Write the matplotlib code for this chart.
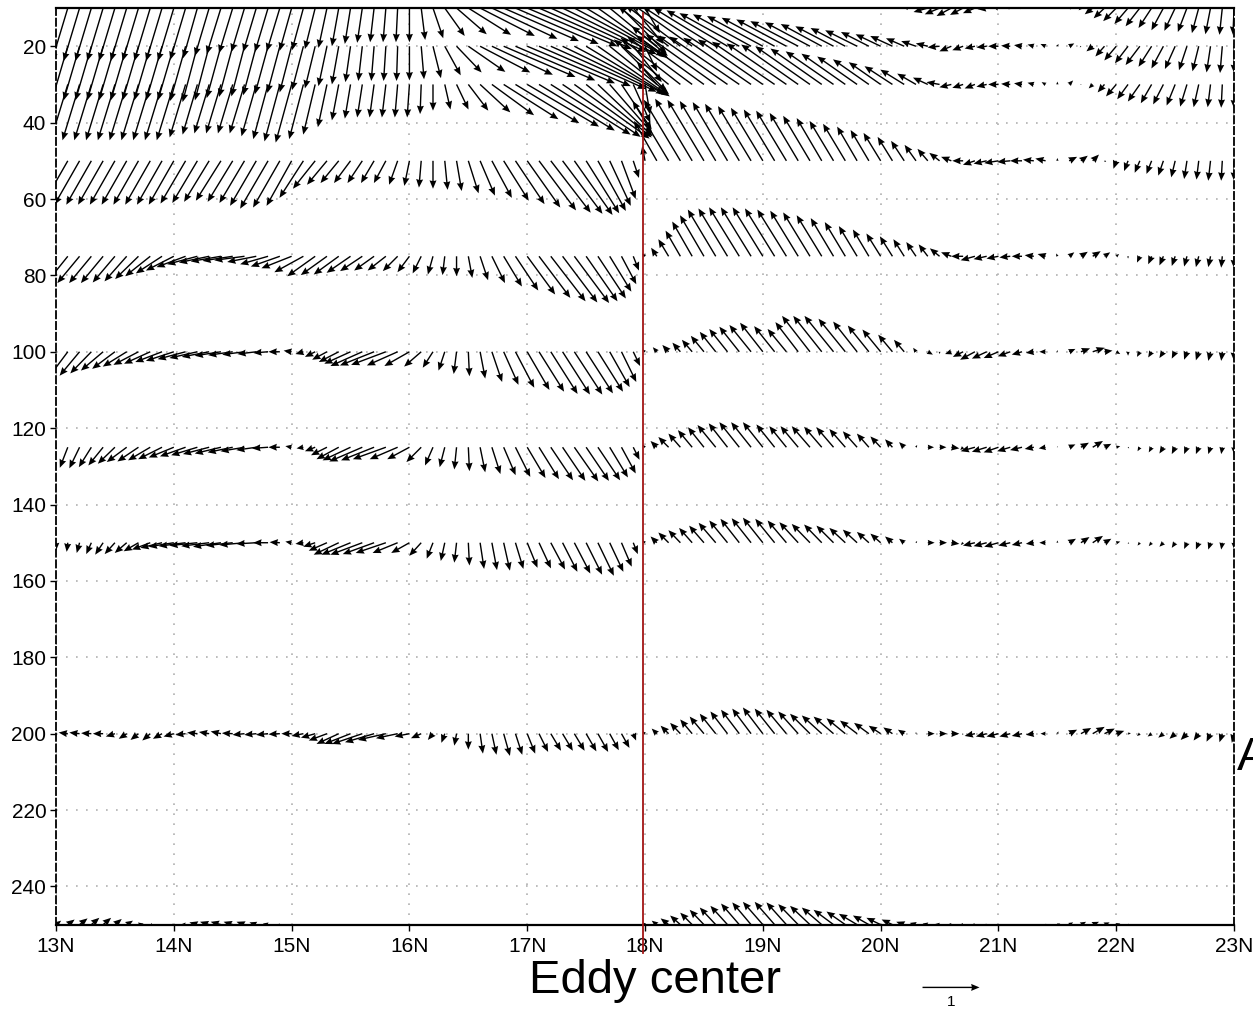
import numpy as np
import matplotlib
matplotlib.use('Agg')
import matplotlib.pyplot as plt
from matplotlib.transforms import blended_transform_factory

# latitudes of the vector columns (every 0.1 deg) and depth levels of the rows
lats = np.round(np.arange(13.0, 23.001, 0.1), 1)
depths = [10, 20, 30, 50, 75, 100, 125, 150, 200, 250]

# meridional component (reference arrow = 1), one list per depth level, 13.0N..23.0N
v10 = ([-0.28]*10 +
       [-0.28, -0.27, -0.25, -0.25, -0.25, -0.24, -0.23, -0.23, -0.23, -0.23] +
       [-0.21, -0.20, -0.18, -0.15, -0.12, -0.10, -0.09, -0.07, -0.05, -0.03] +
       [0.0, 0.07, 0.18, 0.35, 0.53, 0.75, 0.96, 1.15, 1.32, 1.46] +
       [1.58, 1.63, 1.67, 1.65, 1.58, 1.42, 1.23, 1.02, 0.79, 0.53] +
       [0.26, -0.35, -0.88, -0.98, -1.05, -1.08, -1.09, -1.07, -1.05, -1.02] +
       [-0.98, -0.93, -0.88, -0.84, -0.79, -0.72, -0.67, -0.61, -0.56, -0.49] +
       [-0.44, -0.39, -0.32, -0.28, -0.25, -0.26, -0.26, -0.23, -0.21, -0.16] +
       [-0.11, -0.07, -0.05, -0.02, 0.0, 0.04, 0.07, -0.04, -0.14, -0.19] +
       [-0.23, -0.24, -0.25, -0.23, -0.21, -0.19, -0.16, -0.12, -0.09, -0.05] + [-0.02])
v20 = ([-0.28]*10 +
       [-0.28, -0.27, -0.26, -0.25, -0.25, -0.24, -0.23, -0.23, -0.23, -0.22] +
       [-0.21, -0.20, -0.18, -0.15, -0.12, -0.09, -0.07, -0.05, -0.04, -0.02] +
       [0.0, 0.05, 0.14, 0.28, 0.44, 0.65, 0.88, 1.07, 1.26, 1.40] +
       [1.54, 1.61, 1.67, 1.65, 1.58, 1.42, 1.26, 1.04, 0.79, 0.50] +
       [0.21, -0.44, -0.88, -0.96, -1.05, -1.08, -1.09, -1.07, -1.05, -1.02] +
       [-0.98, -0.93, -0.88, -0.84, -0.79, -0.72, -0.67, -0.61, -0.56, -0.49] +
       [-0.44, -0.39, -0.32, -0.26, -0.21, -0.21, -0.21, -0.19, -0.18, -0.18] +
       [-0.18, -0.16, -0.14, -0.11, -0.09, 0.02, 0.09, -0.02, -0.11, -0.16] +
       [-0.21, -0.23, -0.25, -0.23, -0.21, -0.18, -0.14, -0.11, -0.07, -0.04] + [0.0])
v30 = ([-0.30]*10 +
       [-0.30, -0.28, -0.26, -0.26, -0.26, -0.26, -0.26, -0.26, -0.26, -0.27] +
       [-0.28, -0.25, -0.21, -0.16, -0.12, -0.10, -0.09, -0.08, -0.07, -0.05] +
       [-0.04, -0.02, 0.0, 0.10, 0.21, 0.35, 0.53, 0.74, 0.96, 1.12] +
       [1.26, 1.33, 1.40, 1.37, 1.32, 1.15, 0.96, 0.75, 0.53, 0.30] +
       [0.09, -0.35, -0.96, -1.05, -1.14, -1.19, -1.23, -1.23, -1.23, -1.19] +
       [-1.14, -1.10, -1.05, -1.00, -0.96, -0.90, -0.84, -0.77, -0.70, -0.63] +
       [-0.56, -0.49, -0.42, -0.33, -0.26, -0.23, -0.21, -0.19, -0.18, -0.18] +
       [-0.18, -0.16, -0.14, -0.11, -0.07, 0.0, 0.07, 0.0, -0.07, -0.12] +
       [-0.18, -0.19, -0.21, -0.19, -0.18, -0.15, -0.12, -0.09, -0.05, -0.02] + [0.0])
v50 = ([-0.44]*10 +
       [-0.44, -0.44, -0.44, -0.44, -0.44, -0.44, -0.44, -0.46, -0.49, -0.47] +
       [-0.44, -0.42, -0.39, -0.35, -0.32, -0.29, -0.26, -0.23, -0.21, -0.15] +
       [-0.09, -0.04, 0.0, 0.05, 0.09, 0.18, 0.26, 0.35, 0.44, 0.51] +
       [0.58, 0.65, 0.70, 0.70, 0.67, 0.58, 0.49, 0.37, 0.25, 0.10] +
       [-0.05, -0.40, -0.63, -0.64, -0.65, -0.64, -0.63, -0.61, -0.60, -0.58] +
       [-0.56, -0.54, -0.53, -0.50, -0.47, -0.44, -0.42, -0.39, -0.35, -0.32] +
       [-0.30, -0.26, -0.23, -0.20, -0.18, -0.18, -0.18, -0.19, -0.21, -0.23] +
       [-0.25, -0.23, -0.21, -0.19, -0.18, 0.0, 0.14, 0.12, 0.11, 0.03] +
       [-0.05, -0.07, -0.09, -0.09, -0.09, -0.07, -0.05, -0.04, -0.04, -0.02] + [0.0])
v75 = ([-0.35, -0.37, -0.39, -0.39, -0.39, -0.39, -0.39, -0.41, -0.44, -0.46] +
       [-0.49, -0.51, -0.53, -0.53, -0.53, -0.53, -0.53, -0.51, -0.49, -0.51] +
       [-0.53, -0.51, -0.49, -0.46, -0.44, -0.42, -0.39, -0.35, -0.32, -0.26] +
       [-0.21, -0.15, -0.09, -0.04, 0.0, 0.07, 0.14, 0.23, 0.32, 0.40] +
       [0.49, 0.55, 0.61, 0.61, 0.61, 0.55, 0.49, 0.38, 0.26, 0.10] +
       [-0.05, -0.10, -0.18, -0.26, -0.35, -0.42, -0.49, -0.51, -0.53, -0.53] +
       [-0.53, -0.52, -0.51, -0.49, -0.47, -0.44, -0.40, -0.36, -0.32, -0.28] +
       [-0.25, -0.22, -0.19, -0.17, -0.16, -0.17, -0.18, -0.21, -0.25, -0.23] +
       [-0.21, -0.19, -0.18, -0.16, -0.14, -0.02, 0.09, 0.12, 0.14, 0.10] +
       [0.05, 0.0, -0.05, -0.06, -0.07, -0.06, -0.05, -0.05, -0.04, -0.02] + [0.0])
v100 = ([-0.32, -0.33, -0.35, -0.37, -0.39, -0.40, -0.42, -0.44, -0.46, -0.47] +
        [-0.49, -0.49, -0.49, -0.48, -0.46, -0.43, -0.39, -0.33, -0.26, -0.20] +
        [-0.14, -0.14, -0.18, -0.26, -0.35, -0.46, -0.56, -0.60, -0.61, -0.54] +
        [-0.44, -0.30, -0.18, -0.11, -0.05, 0.02, 0.09, 0.18, 0.26, 0.33] +
        [0.39, 0.44, 0.47, 0.48, 0.49, 0.47, 0.44, 0.35, 0.26, 0.12] +
        [-0.04, -0.07, -0.11, -0.14, -0.18, -0.23, -0.28, -0.32, -0.35, -0.38] +
        [-0.40, -0.36, -0.33, -0.40, -0.49, -0.50, -0.51, -0.47, -0.42, -0.37] +
        [-0.32, -0.25, -0.18, -0.05, 0.09, 0.0, -0.11, -0.18, -0.26, -0.26] +
        [-0.26, -0.22, -0.18, -0.14, -0.11, 0.0, 0.11, 0.16, 0.21, 0.14] +
        [0.07, 0.0, -0.05, -0.06, -0.07, -0.06, -0.05, -0.05, -0.04, -0.02] + [0.0])
v125 = ([-0.09, -0.14, -0.18, -0.22, -0.26, -0.30, -0.35, -0.37, -0.39, -0.42] +
        [-0.44, -0.45, -0.46, -0.46, -0.46, -0.44, -0.42, -0.35, -0.28, -0.20] +
        [-0.11, -0.12, -0.18, -0.28, -0.39, -0.49, -0.58, -0.58, -0.58, -0.49] +
        [-0.39, -0.26, -0.14, -0.09, -0.04, 0.02, 0.09, 0.15, 0.21, 0.26] +
        [0.32, 0.35, 0.39, 0.40, 0.42, 0.40, 0.39, 0.32, 0.25, 0.11] +
        [-0.04, -0.11, -0.18, -0.21, -0.25, -0.28, -0.32, -0.33, -0.35, -0.35] +
        [-0.35, -0.32, -0.30, -0.31, -0.32, -0.31, -0.30, -0.28, -0.25, -0.21] +
        [-0.18, -0.13, -0.09, 0.02, 0.11, 0.12, 0.14, -0.05, -0.25, -0.26] +
        [-0.26, -0.23, -0.21, -0.16, -0.12, 0.0, 0.11, 0.14, 0.18, 0.12] +
        [0.07, 0.02, -0.04, -0.05, -0.07, -0.06, -0.05, -0.05, -0.04, -0.02] + [0.0])
v150 = ([0.0, -0.02, -0.05, -0.09, -0.14, -0.18, -0.21, -0.26, -0.32, -0.38] +
        [-0.44, -0.47, -0.49, -0.49, -0.49, -0.47, -0.44, -0.35, -0.26, -0.18] +
        [-0.11, -0.14, -0.21, -0.32, -0.44, -0.51, -0.56, -0.55, -0.53, -0.44] +
        [-0.32, -0.21, -0.11, -0.07, -0.04, 0.02, 0.07, 0.09, 0.11, 0.14] +
        [0.18, 0.21, 0.25, 0.26, 0.28, 0.28, 0.28, 0.24, 0.18, 0.08] +
        [-0.04, -0.11, -0.18, -0.21, -0.23, -0.26, -0.30, -0.32, -0.33, -0.34] +
        [-0.35, -0.34, -0.33, -0.33, -0.32, -0.31, -0.30, -0.28, -0.25, -0.21] +
        [-0.18, -0.13, -0.09, 0.02, 0.12, 0.13, 0.14, -0.04, -0.21, -0.23] +
        [-0.25, -0.21, -0.18, -0.14, -0.11, 0.0, 0.12, 0.15, 0.18, 0.12] +
        [0.07, 0.02, -0.04, -0.05, -0.07, -0.06, -0.05, -0.05, -0.04, -0.02] + [0.0])
v200 = ([-0.14, -0.16, -0.18, -0.18, -0.18, -0.16, -0.14, -0.14, -0.14, -0.16] +
        [-0.18, -0.18, -0.18, -0.18, -0.18, -0.19, -0.21, -0.21, -0.21, -0.20] +
        [-0.18, -0.21, -0.25, -0.32, -0.39, -0.46, -0.53, -0.51, -0.49, -0.38] +
        [-0.26, -0.18, -0.09, -0.06, -0.04, 0.0, 0.05, 0.08, 0.11, 0.12] +
        [0.14, 0.16, 0.18, 0.18, 0.18, 0.18, 0.18, 0.16, 0.14, 0.05] +
        [-0.04, -0.09, -0.14, -0.18, -0.21, -0.25, -0.28, -0.30, -0.32, -0.33] +
        [-0.35, -0.35, -0.35, -0.35, -0.35, -0.35, -0.35, -0.33, -0.30, -0.26] +
        [-0.21, -0.16, -0.11, 0.0, 0.12, 0.13, 0.14, -0.02, -0.18, -0.19] +
        [-0.21, -0.19, -0.18, -0.14, -0.09, 0.02, 0.14, 0.18, 0.21, 0.18] +
        [0.14, 0.05, -0.05, -0.07, -0.09, -0.10, -0.11, -0.09, -0.07, -0.05] + [-0.04])
v250 = ([0.09, 0.12, 0.14, 0.14, 0.14, 0.12, 0.11, 0.09, 0.07, 0.01] +
        [-0.05, -0.09, -0.14, -0.16, -0.18, -0.16, -0.14, -0.12, -0.09, -0.05] +
        [0.0]*30 +
        [-0.04, -0.09, -0.14, -0.18, -0.21, -0.25, -0.28, -0.30, -0.32, -0.33] +
        [-0.35, -0.35, -0.35, -0.35, -0.35, -0.35, -0.35, -0.33, -0.32, -0.28] +
        [-0.25, -0.19, -0.14, -0.11, -0.09, -0.08, -0.07, -0.07, -0.07, -0.05] +
        [-0.04, -0.02, 0.0, 0.02, 0.04, 0.05, 0.07, 0.09, 0.11, 0.09] +
        [0.07, 0.04, 0.0, 0.0, 0.0, 0.0, 0.0, 0.0, 0.0, 0.0] + [0.0])

# vertical component (scaled, positive = upward)
w10 = ([-0.93]*10 +
       [-0.93, -0.91, -0.88, -0.84, -0.81, -0.79, -0.77, -0.77, -0.77, -0.76] +
       [-0.75, -0.74, -0.72, -0.70, -0.67, -0.63, -0.61, -0.60, -0.60, -0.60] +
       [-0.60, -0.56, -0.53, -0.49, -0.46, -0.47, -0.49, -0.54, -0.58, -0.63] +
       [-0.67, -0.72, -0.77, -0.81, -0.84, -0.86, -0.88, -0.84, -0.79, -0.63] +
       [-0.44, 0.50, 0.79, 0.79, 0.79, 0.77, 0.74, 0.70, 0.67, 0.63] +
       [0.60, 0.56, 0.53, 0.49, 0.46, 0.42, 0.39, 0.35, 0.32, 0.28] +
       [0.23, 0.19, 0.14, 0.05, -0.07, -0.11, -0.14, -0.12, -0.09, -0.02] +
       [0.04, 0.05, 0.05, 0.05, 0.05, 0.04, 0.04, -0.04, -0.11, -0.18] +
       [-0.23, -0.28, -0.32, -0.35, -0.39, -0.40, -0.42, -0.44, -0.46, -0.47] + [-0.47])
w20 = ([-0.95]*10 +
       [-0.95, -0.96, -0.98, -0.95, -0.91, -0.89, -0.88, -0.86, -0.84, -0.82] +
       [-0.81, -0.77, -0.74, -0.70, -0.67, -0.63, -0.61, -0.61, -0.61, -0.61] +
       [-0.60, -0.58, -0.56, -0.51, -0.46, -0.45, -0.46, -0.50, -0.54, -0.60] +
       [-0.65, -0.70, -0.75, -0.80, -0.84, -0.86, -0.88, -0.84, -0.79, -0.63] +
       [-0.44, 0.35, 0.70, 0.72, 0.74, 0.70, 0.67, 0.63, 0.58, 0.56] +
       [0.53, 0.50, 0.47, 0.44, 0.42, 0.39, 0.35, 0.32, 0.28, 0.25] +
       [0.21, 0.18, 0.14, 0.09, 0.05, -0.02, -0.09, -0.07, -0.04, -0.02] +
       [0.0, 0.01, 0.02, 0.03, 0.04, 0.04, 0.05, -0.02, -0.09, -0.18] +
       [-0.25, -0.30, -0.33, -0.36, -0.39, -0.40, -0.42, -0.44, -0.46, -0.47] + [-0.47])
w30 = ([-0.98]*10 +
       [-0.98, -0.93, -0.88, -0.86, -0.86, -0.86, -0.86, -0.91, -0.96, -1.00] +
       [-1.02, -0.96, -0.88, -0.75, -0.63, -0.60, -0.58, -0.58, -0.58, -0.58] +
       [-0.58, -0.52, -0.46, -0.44, -0.44, -0.46, -0.49, -0.54, -0.61, -0.68] +
       [-0.74, -0.81, -0.88, -0.92, -0.95, -0.93, -0.91, -0.86, -0.79, -0.67] +
       [-0.53, 0.40, 0.79, 0.82, 0.84, 0.86, 0.88, 0.86, 0.84, 0.82] +
       [0.79, 0.75, 0.72, 0.70, 0.67, 0.63, 0.58, 0.54, 0.49, 0.44] +
       [0.39, 0.32, 0.26, 0.19, 0.12, 0.04, -0.05, -0.06, -0.07, -0.04] +
       [0.0, 0.01, 0.02, 0.03, 0.04, 0.05, 0.07, 0.0, -0.07, -0.14] +
       [-0.21, -0.26, -0.30, -0.33, -0.35, -0.37, -0.39, -0.40, -0.40, -0.41] + [-0.42])
w50 = ([-0.77]*10 +
       [-0.77, -0.75, -0.74, -0.72, -0.70, -0.72, -0.74, -0.79, -0.84, -0.82] +
       [-0.79, -0.65, -0.49, -0.42, -0.39, -0.39, -0.39, -0.39, -0.39, -0.42] +
       [-0.44, -0.47, -0.49, -0.51, -0.53, -0.57, -0.61, -0.65, -0.70, -0.76] +
       [-0.82, -0.87, -0.91, -0.93, -0.95, -0.92, -0.88, -0.79, -0.67, -0.30] +
       [0.26, 0.70, 1.05, 1.07, 1.09, 1.07, 1.05, 1.03, 1.00, 0.96] +
       [0.93, 0.90, 0.88, 0.84, 0.79, 0.75, 0.70, 0.65, 0.60, 0.54] +
       [0.49, 0.42, 0.35, 0.28, 0.21, 0.14, 0.07, 0.0, -0.07, -0.05] +
       [-0.04, -0.02, 0.0, 0.02, 0.04, 0.05, 0.07, 0.09, 0.11, -0.02] +
       [-0.14, -0.18, -0.21, -0.23, -0.26, -0.29, -0.32, -0.33, -0.35, -0.35] + [-0.35])
w75 = ([-0.44, -0.46, -0.47, -0.47, -0.47, -0.46, -0.44, -0.40, -0.35, -0.30] +
       [-0.25, -0.19, -0.14, -0.11, -0.09, -0.08, -0.07, -0.10, -0.14, -0.18] +
       [-0.21, -0.28, -0.35, -0.33, -0.32, -0.29, -0.26, -0.25, -0.25, -0.26] +
       [-0.28, -0.30, -0.32, -0.33, -0.35, -0.38, -0.42, -0.47, -0.53, -0.60] +
       [-0.67, -0.73, -0.79, -0.81, -0.82, -0.79, -0.74, -0.62, -0.49, -0.25] +
       [0.05, 0.15, 0.30, 0.45, 0.61, 0.72, 0.82, 0.84, 0.86, 0.86] +
       [0.86, 0.84, 0.82, 0.80, 0.77, 0.72, 0.67, 0.60, 0.53, 0.47] +
       [0.40, 0.35, 0.30, 0.25, 0.21, 0.14, 0.07, 0.0, -0.07, -0.05] +
       [-0.04, -0.02, 0.0, 0.02, 0.04, 0.05, 0.07, 0.08, 0.09, 0.07] +
       [0.04, -0.04, -0.11, -0.14, -0.16, -0.17, -0.18, -0.19, -0.19, -0.20] + [-0.21])
w100 = ([-0.46, -0.44, -0.42, -0.38, -0.33, -0.30, -0.26, -0.23, -0.21, -0.18] +
        [-0.16, -0.13, -0.11, -0.09, -0.07, -0.06, -0.05, -0.04, -0.02, 0.0] +
        [0.02, -0.04, -0.09, -0.14, -0.18, -0.21, -0.25, -0.24, -0.23, -0.24] +
        [-0.25, -0.26, -0.28, -0.33, -0.39, -0.43, -0.47, -0.53, -0.58, -0.63] +
        [-0.67, -0.70, -0.74, -0.75, -0.75, -0.73, -0.70, -0.62, -0.53, -0.25] +
        [0.04, 0.08, 0.12, 0.16, 0.21, 0.28, 0.35, 0.40, 0.44, 0.47] +
        [0.51, 0.45, 0.40, 0.52, 0.63, 0.63, 0.63, 0.58, 0.53, 0.46] +
        [0.39, 0.30, 0.21, 0.07, -0.05, -0.04, -0.04, -0.09, -0.14, -0.12] +
        [-0.11, -0.08, -0.05, -0.02, 0.0, 0.03, 0.05, 0.06, 0.07, 0.02] +
        [-0.04, -0.07, -0.09, -0.10, -0.11, -0.12, -0.14, -0.15, -0.16, -0.16] + [-0.16])
w125 = ([-0.35, -0.36, -0.37, -0.35, -0.32, -0.29, -0.26, -0.25, -0.23, -0.21] +
        [-0.18, -0.16, -0.14, -0.12, -0.11, -0.09, -0.07, -0.05, -0.02, 0.0] +
        [0.02, -0.02, -0.07, -0.14, -0.21, -0.23, -0.25, -0.23, -0.21, -0.21] +
        [-0.21, -0.26, -0.32, -0.35, -0.39, -0.42, -0.44, -0.47, -0.49, -0.52] +
        [-0.54, -0.56, -0.58, -0.59, -0.60, -0.59, -0.58, -0.53, -0.46, -0.22] +
        [0.04, 0.11, 0.18, 0.24, 0.30, 0.35, 0.39, 0.42, 0.44, 0.44] +
        [0.44, 0.40, 0.37, 0.37, 0.37, 0.36, 0.35, 0.32, 0.28, 0.24] +
        [0.19, 0.14, 0.09, 0.04, 0.0, 0.0, -0.02, -0.05, -0.07, -0.08] +
        [-0.09, -0.07, -0.05, -0.03, -0.02, 0.02, 0.05, 0.08, 0.11, 0.06] +
        [0.02, -0.02, -0.07, -0.09, -0.11, -0.12, -0.12, -0.12, -0.12, -0.12] + [-0.12])
w150 = ([-0.14, -0.16, -0.18, -0.20, -0.21, -0.20, -0.18, -0.15, -0.12, -0.09] +
        [-0.07, -0.06, -0.05, -0.06, -0.07, -0.05, -0.04, -0.02, 0.0, 0.01] +
        [0.02, -0.02, -0.07, -0.14, -0.21, -0.21, -0.21, -0.20, -0.18, -0.18] +
        [-0.18, -0.23, -0.28, -0.32, -0.35, -0.40, -0.46, -0.48, -0.49, -0.46] +
        [-0.44, -0.45, -0.47, -0.51, -0.54, -0.56, -0.58, -0.51, -0.42, -0.20] +
        [0.04, 0.11, 0.18, 0.22, 0.26, 0.30, 0.35, 0.39, 0.42, 0.43] +
        [0.44, 0.42, 0.39, 0.36, 0.33, 0.32, 0.30, 0.26, 0.23, 0.19] +
        [0.16, 0.11, 0.07, 0.03, 0.0, 0.0, -0.02, -0.04, -0.05, -0.06] +
        [-0.07, -0.05, -0.04, -0.02, 0.0, 0.04, 0.07, 0.10, 0.12, 0.07] +
        [0.02, -0.02, -0.05, -0.06, -0.07, -0.09, -0.11, -0.12, -0.12, -0.12] + [-0.11])
w200 = ([0.02, 0.02, 0.02, 0.01, 0.0, -0.05, -0.09, -0.11, -0.12, -0.09] +
        [-0.05, -0.02, 0.02, 0.03, 0.04, 0.01, -0.02, -0.02, -0.02, -0.01] +
        [0.0, -0.04, -0.07, -0.12, -0.18, -0.18, -0.18, -0.15, -0.11, -0.08] +
        [-0.05, -0.08, -0.11, -0.16, -0.21, -0.28, -0.35, -0.37, -0.39, -0.37] +
        [-0.35, -0.32, -0.30, -0.30, -0.30, -0.31, -0.32, -0.29, -0.25, -0.12] +
        [0.04, 0.09, 0.14, 0.19, 0.25, 0.30, 0.35, 0.39, 0.42, 0.44] +
        [0.46, 0.44, 0.42, 0.39, 0.35, 0.32, 0.30, 0.27, 0.23, 0.19] +
        [0.14, 0.11, 0.07, 0.03, 0.0, 0.0, 0.0, -0.02, -0.04, -0.05] +
        [-0.05, -0.05, -0.04, -0.02, 0.0, 0.04, 0.07, 0.10, 0.12, 0.09] +
        [0.05, 0.01, -0.04, -0.05, -0.07, -0.09, -0.11, -0.12, -0.14, -0.15] + [-0.16])
w250 = ([0.07, 0.09, 0.11, 0.12, 0.12, 0.10, 0.07, 0.02, -0.04, -0.04] +
        [-0.04, 0.0, 0.04, 0.05, 0.05, 0.05, 0.05, 0.04, 0.02, 0.0] +
        [-0.09]*30 +
        [0.04, 0.07, 0.11, 0.16, 0.21, 0.26, 0.30, 0.33, 0.37, 0.39] +
        [0.40, 0.40, 0.39, 0.36, 0.33, 0.30, 0.26, 0.23, 0.19, 0.16] +
        [0.12, 0.09, 0.05, 0.03, 0.02, 0.01, 0.0, -0.01, -0.02, -0.02] +
        [-0.02, -0.02, -0.02, -0.01, 0.0, 0.02, 0.04, 0.05, 0.05, 0.04] +
        [0.02, 0.0, -0.02, -0.03, -0.04, -0.04, -0.04, -0.04, -0.04, -0.04] + [-0.04])

x_labels = ['13N', '14N', '15N', '16N', '17N', '18N', '19N', '20N', '21N', '22N', '23N']
y_ticks = list(range(20, 241, 20))

V = np.array([v10, v20, v30, v50, v75, v100, v125, v150, v200, v250])
W = np.array([w10, w20, w30, w50, w75, w100, w125, w150, w200, w250])
X, Y = np.meshgrid(lats, depths)

plt.rcParams['font.family'] = ['Liberation Sans', 'DejaVu Sans']

fig = plt.figure(figsize=(12.53, 10.19), dpi=100)
ax = fig.add_axes([0.0447, 0.0926, 0.9402, 0.8995])

# vectors: 1 unit -> 57 px, direction taken on screen
q = ax.quiver(X, Y, V, W, angles='uv', scale_units='dots', scale=1/57.,
              units='dots', width=1.4, headwidth=5, headlength=6,
              headaxislength=5.5, minlength=0.6, color='black',
              pivot='tail', zorder=3)

ax.set_xlim(13, 23)
ax.set_ylim(250, 10)
ax.set_xticks(range(13, 24))
ax.set_xticklabels(x_labels)
ax.set_yticks(y_ticks)
ax.tick_params(labelsize=15, length=4, width=1, pad=3)
ax.tick_params(axis='x', pad=5)

ax.grid(True, color='#b0b0b0', linestyle=(0, (1, 5)), linewidth=1.2)
for s in ['top', 'bottom']:
    ax.spines[s].set_linewidth(1.6)
for s in ['left', 'right']:
    ax.spines[s].set_linestyle((0, (4, 2)))
    ax.spines[s].set_linewidth(1.3)

# eddy center line
tr = blended_transform_factory(ax.transData, ax.transAxes)
ax.plot([17.98, 17.98], [-0.031, 0.995], color='#a31515', lw=1.3,
        transform=tr, clip_on=False, zorder=4)

fig.text(0.523, 0.0255, 'Eddy center', fontsize=34, ha='center', va='baseline')
fig.text(0.9872, 0.2444, 'A', fontsize=34, ha='left', va='baseline')

ax.quiverkey(q, X=0.759, Y=0.031, U=1, label='1', labelpos='S',
             coordinates='figure', labelsep=0.08, fontproperties={'size': 11})

fig.savefig('out.png', dpi=100)
